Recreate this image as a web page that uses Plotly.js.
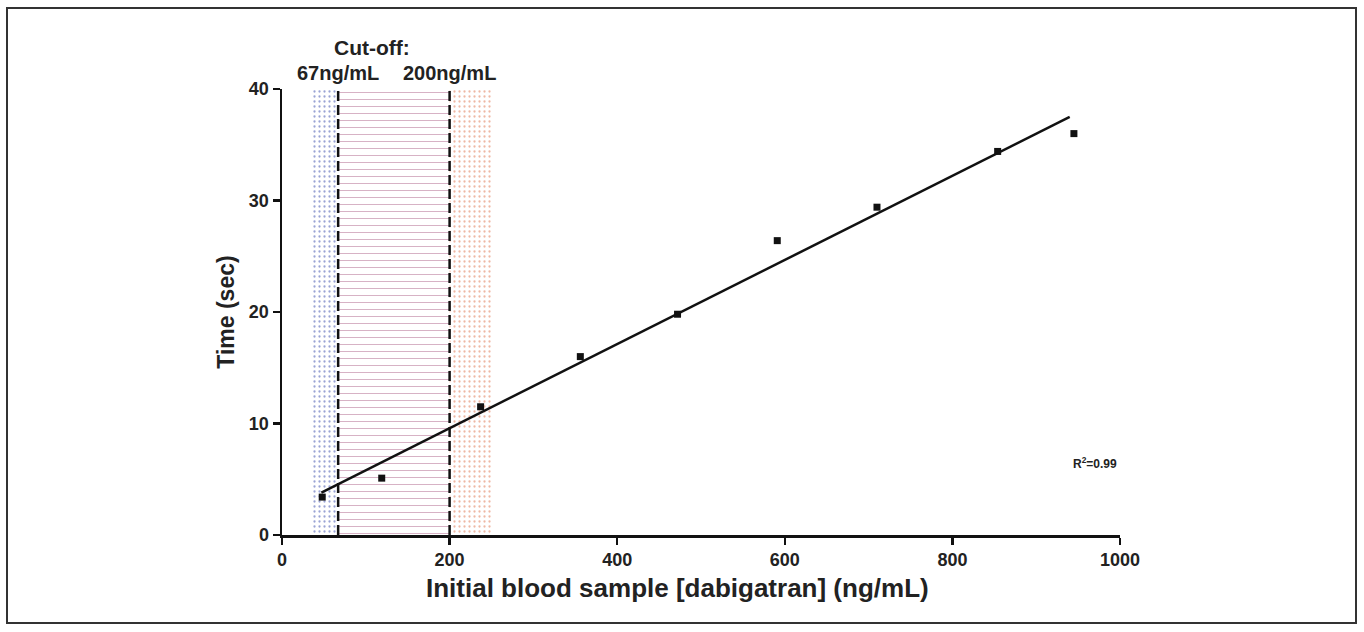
<!DOCTYPE html>
<html>
<head>
<meta charset="utf-8">
<script src="https://cdn.plot.ly/plotly-3.0.1.min.js"></script>
<style>
  html, body { margin: 0; padding: 0; background: #ffffff; }
  #chart { width: 1364px; height: 632px; }
</style>
</head>
<body>
<div id="chart"></div>
<script>
// ---- Data ----
const concentration = [48, 119, 237, 356, 472, 591, 710, 854, 945];   // ng/mL
const timeSec       = [3.4, 5.1, 11.5, 16.0, 19.8, 26.4, 29.4, 34.4, 36.0];
const fitX = [47, 940];
const fitY = [3.8, 37.5];
const cutoffValues = [67, 200];
const cutoffLabels = ['67ng/mL', '200ng/mL'];
const zoneEdges = [35, 67, 200, 250];
const xTicks = [0, 200, 400, 600, 800, 1000];
const yTicks = [0, 10, 20, 30, 40];
const r2Text = 'R<sup>2</sup>=0.99';
const xTitle = 'Initial blood sample [dabigatran] (ng/mL)';
const yTitle = 'Time (sec)';

const FONT = 'Liberation Sans, Arial, sans-serif';
const yMax = 40;

const zoneStyles = [
  {shape: '.', fgcolor: '#9aa3d4', size: 5, solidity: 0.16},
  {shape: '-', fgcolor: '#d6b0c4', size: 7, solidity: 0.14},
  {shape: '.', fgcolor: '#eeb8a4', size: 5, solidity: 0.16}
];

const traces = [];
for (let i = 0; i < zoneEdges.length - 1; i++) {
  const a = zoneEdges[i], b = zoneEdges[i + 1];
  traces.push({
    x: [a, a, b, b, a], y: [0, yMax, yMax, 0, 0],
    type: 'scatter', mode: 'lines', fill: 'toself',
    fillcolor: 'rgba(255,255,255,0)',
    fillpattern: Object.assign({bgcolor: 'rgba(255,255,255,0)'}, zoneStyles[i]),
    line: {width: 0}, hoverinfo: 'skip', showlegend: false
  });
}
cutoffValues.forEach(v => {
  traces.push({
    x: [v, v], y: [0, yMax], type: 'scatter', mode: 'lines',
    line: {color: '#111', width: 2.5, dash: '10px,4px'},
    hoverinfo: 'skip', showlegend: false
  });
});
traces.push({
  x: fitX, y: fitY, type: 'scatter', mode: 'lines',
  line: {color: '#111', width: 2.5}, showlegend: false
});
traces.push({
  x: concentration, y: timeSec, type: 'scatter', mode: 'markers',
  marker: {symbol: 'square', size: 7, color: '#111'}, showlegend: false
});

const L = 282, R = 1120, T = 89, B = 535;
const pw = R - L, ph = B - T;

const annotations = [
  {text: 'Cut-off:', x: 107, y: 1.092, xref: 'x', yref: 'paper', showarrow: false,
   font: {family: FONT, size: 21, color: '#222', weight: 'bold'}, xanchor: 'center', yanchor: 'middle'},
  {text: r2Text, x: 970, y: 6.5, xref: 'x', yref: 'y', showarrow: false,
   font: {family: FONT, size: 12, color: '#222', weight: 'bold'}, xanchor: 'center', yanchor: 'middle'},
  {text: xTitle, x: (677 - L) / pw, y: (B - 588) / ph, xref: 'paper', yref: 'paper', showarrow: false,
   font: {family: FONT, size: 26, color: '#222', weight: 'bold'}, xanchor: 'center', yanchor: 'middle'}
];
cutoffValues.forEach((v, i) => {
  annotations.push({text: cutoffLabels[i], x: v, y: 1.036, xref: 'x', yref: 'paper', showarrow: false,
    font: {family: FONT, size: 20, color: '#222', weight: 'bold'}, xanchor: 'center', yanchor: 'middle'});
});

const layout = {
  width: 1364, height: 632,
  margin: {l: L, r: 1364 - R, t: T, b: 632 - B, pad: 0},
  paper_bgcolor: '#ffffff', plot_bgcolor: 'rgba(0,0,0,0)',
  showlegend: false,
  font: {family: FONT, color: '#222'},
  xaxis: {
    range: [0, 1000], tickvals: xTicks, showgrid: false, zeroline: false,
    showline: true, linecolor: '#111', linewidth: 2.5,
    ticks: 'outside', ticklen: 7, tickwidth: 2.5, tickcolor: '#111',
    tickfont: {family: FONT, size: 18, color: '#222', weight: 'bold'},
    fixedrange: true
  },
  yaxis: {
    range: [0, yMax], tickvals: yTicks, showgrid: false, zeroline: false,
    showline: true, linecolor: '#111', linewidth: 2.5,
    ticks: 'outside', ticklen: 7, tickwidth: 2.5, tickcolor: '#111',
    tickfont: {family: FONT, size: 18, color: '#222', weight: 'bold'},
    title: {text: yTitle, standoff: 8,
            font: {family: FONT, size: 23, color: '#222', weight: 'bold'}},
    fixedrange: true
  },
  annotations: annotations,
  shapes: [{
    type: 'rect', xref: 'paper', yref: 'paper',
    x0: (7 - L) / pw, x1: (1356 - L) / pw,
    y0: (B - 623) / ph, y1: (B - 8) / ph,
    line: {color: '#333', width: 2}, fillcolor: 'rgba(0,0,0,0)', layer: 'below'
  }]
};

Plotly.newPlot('chart', traces, layout, {displayModeBar: false, staticPlot: true});
</script>
</body>
</html>
